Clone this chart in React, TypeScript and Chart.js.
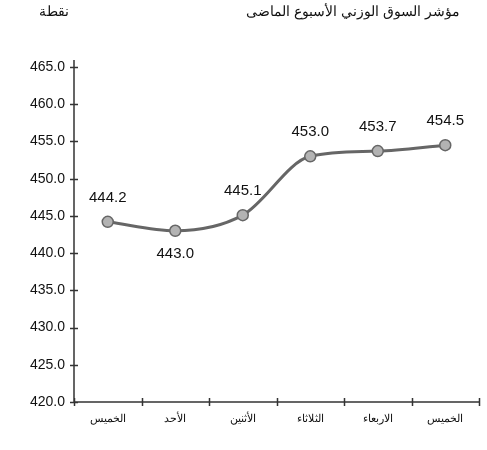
import React, { useEffect, useRef } from "react";
import { Chart, registerables } from "chart.js";

Chart.register(...registerables);

const categories = ["الخميس", "الأحد", "الأثنين", "الثلاثاء", "الاربعاء", "الخميس"];
const values = [444.2, 443.0, 445.1, 453.0, 453.7, 454.5];
const labelBelow = [false, true, false, false, false, false];
const yMin = 420;
const yMax = 465;
const yStep = 5;
const title = "مؤشر السوق الوزني الأسبوع الماضى";
const unit = "نقطة";

const FONT = "'Liberation Sans', Arial, sans-serif";

const axisPlugin = {
  id: "crossAxes",
  afterDatasetsDraw(chart: any) {
    const { ctx, chartArea, scales } = chart;
    const x = scales.x;
    const y = scales.y;
    ctx.save();
    ctx.strokeStyle = "#333";
    ctx.lineWidth = 1.5;
    ctx.beginPath();
    ctx.moveTo(chartArea.left, chartArea.top - 7);
    ctx.lineTo(chartArea.left, chartArea.bottom);
    ctx.lineTo(chartArea.right, chartArea.bottom);
    for (let v = yMin; v <= yMax; v += yStep) {
      const py = Math.round(y.getPixelForValue(v)) + 0.5;
      ctx.moveTo(chartArea.left - 4, py);
      ctx.lineTo(chartArea.left + 4, py);
    }
    const n = categories.length;
    for (let i = 0; i <= n; i++) {
      const px = Math.round(x.getPixelForValue(i - 0.5)) + 0.5;
      ctx.moveTo(px, chartArea.bottom - 4);
      ctx.lineTo(px, chartArea.bottom + 4);
    }
    ctx.stroke();

    const meta = chart.getDatasetMeta(0);
    ctx.fillStyle = "#111";
    ctx.font = `15px ${FONT}`;
    ctx.textAlign = "center";
    ctx.textBaseline = "middle";
    meta.data.forEach((pt: any, i: number) => {
      const off = labelBelow[i] ? 23 : -24;
      ctx.fillText(values[i].toFixed(1), pt.x, pt.y + off);
    });
    ctx.restore();
  },
};

export default function App() {
  const ref = useRef<HTMLCanvasElement | null>(null);
  useEffect(() => {
    document.body.style.margin = "0";
    if (!ref.current) return;
    const chart = new Chart(ref.current, {
      type: "line",
      data: {
        labels: categories,
        datasets: [
          {
            data: values,
            borderColor: "#666666",
            borderWidth: 3,
            backgroundColor: "#b3b3b3",
            pointBackgroundColor: "#b3b3b3",
            pointBorderColor: "#666666",
            pointBorderWidth: 1.5,
            pointRadius: 5.5,
            tension: 0.4,
            cubicInterpolationMode: "monotone",
            fill: false,
          },
        ],
      },
      options: {
        animation: false,
        responsive: false,
        devicePixelRatio: 1,
        layout: { padding: { top: 67, right: 8, left: 0, bottom: 0 } },
        plugins: {
          legend: { display: false },
          tooltip: { enabled: false },
          title: { display: false },
        },
        scales: {
          x: {
            offset: true,
            grid: { display: false, drawTicks: false },
            border: { display: false },
            ticks: {
              padding: 10,
              color: "#111",
              font: { family: FONT, size: 11 },
              maxRotation: 0,
            },
            afterFit: (s: any) => {
              s.height = 48;
            },
          },
          y: {
            min: yMin,
            max: yMax,
            grid: { display: false, drawTicks: false },
            border: { display: false },
            ticks: {
              stepSize: yStep,
              padding: 9,
              color: "#111",
              font: { family: FONT, size: 14 },
              callback: (v: any) => Number(v).toFixed(1),
            },
            afterFit: (s: any) => {
              s.width = 74;
            },
          },
        },
      },
      plugins: [axisPlugin],
    });
    return () => chart.destroy();
  }, []);

  return (
    <div style={{ position: "relative", width: 487, height: 450, background: "#fff" }}>
      <canvas ref={ref} width={487} height={450} style={{ position: "absolute", left: 0, top: 0 }} />
      <div
        style={{
          position: "absolute",
          right: 27,
          top: 3,
          direction: "rtl",
          fontFamily: FONT,
          fontSize: 14,
          color: "#111",
          whiteSpace: "nowrap",
        }}
      >
        {title}
      </div>
      <div
        style={{
          position: "absolute",
          left: 39,
          top: 3,
          direction: "rtl",
          fontFamily: FONT,
          fontSize: 14,
          color: "#111",
          whiteSpace: "nowrap",
        }}
      >
        {unit}
      </div>
    </div>
  );
}
